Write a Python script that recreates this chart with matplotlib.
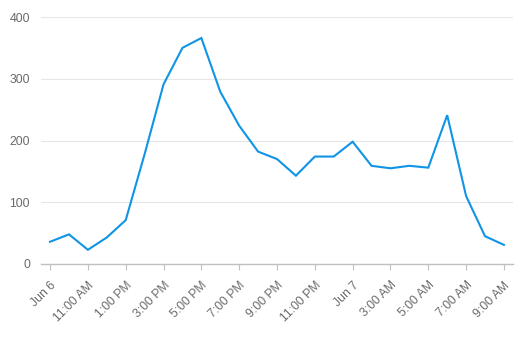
import matplotlib
matplotlib.use("Agg")
import matplotlib.pyplot as plt

plt.rcParams["font.family"] = ["Liberation Sans", "DejaVu Sans"]

tick_labels = ["Jun 6", "11:00 AM", "1:00 PM", "3:00 PM", "5:00 PM", "7:00 PM",
               "9:00 PM", "11:00 PM", "Jun 7", "3:00 AM", "5:00 AM", "7:00 AM", "9:00 AM"]
hours = list(range(25))
values = [36, 48, 23, 43, 71, 178, 291, 350, 366, 279, 224, 182, 170, 143,
          174, 174, 198, 159, 155, 159, 156, 241, 110, 45, 31]
y_ticks = [0, 100, 200, 300, 400]

fig = plt.figure(figsize=(5.24, 3.40), dpi=100)
ax = fig.add_axes([41/524, 1-264/340, (513-41)/524, (264-17)/340])

ax.plot(hours, values, color="#0f94e6", linewidth=1.5, solid_joinstyle="miter")

ax.set_xlim(-0.48, 24.48)
ax.set_ylim(0, 400)
ax.set_yticks(y_ticks)
ax.set_yticklabels([str(v) for v in y_ticks])
ax.set_xticks(hours[::2])
ax.set_xticklabels(tick_labels, rotation=45, ha="right", va="top", rotation_mode="anchor")

for s in ["top", "right", "left"]:
    ax.spines[s].set_visible(False)
ax.spines["bottom"].set_color("#c0c0c0")
ax.spines["bottom"].set_linewidth(1.0)

ax.grid(axis="y", color="#e6e6e6", linewidth=0.8)
ax.set_axisbelow(True)
ax.tick_params(axis="y", length=0, pad=8, labelsize=8.8, labelcolor="#6a6a6a")
ax.tick_params(axis="x", length=4, width=0.8, color="#c0c0c0", pad=7,
               labelsize=8.8, labelcolor="#6a6a6a")

fig.savefig("out.png", dpi=100, facecolor="white")
